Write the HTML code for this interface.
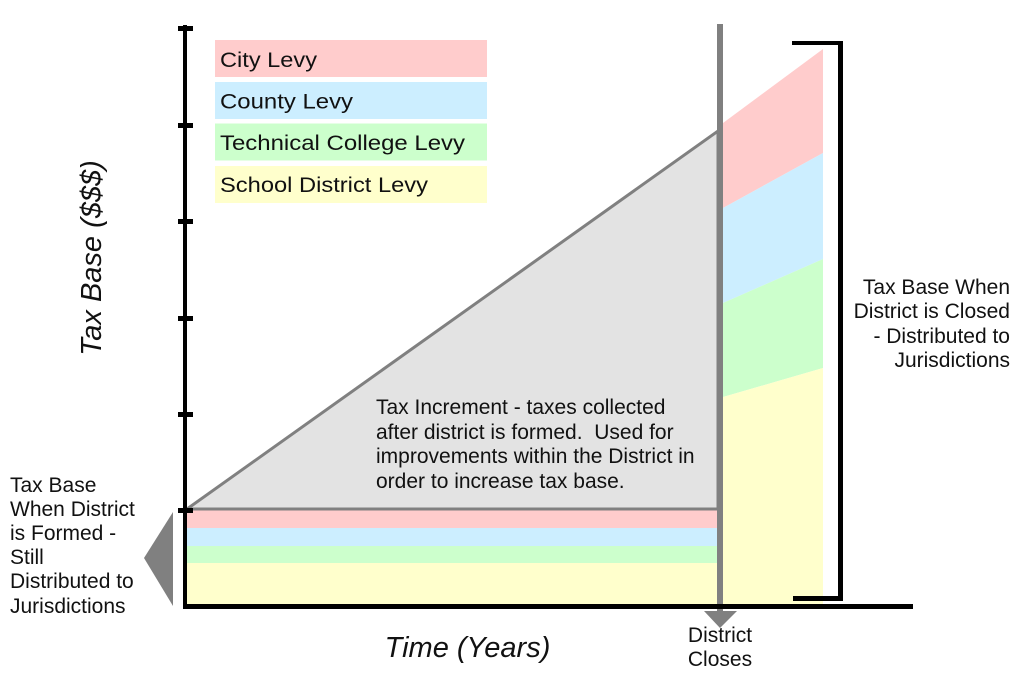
<!DOCTYPE html>
<html>
<head>
<meta charset="utf-8">
<style>
  html,body{margin:0;padding:0;background:#fff;}
  svg{display:block;}
  text{font-family:"Liberation Sans",Arial,sans-serif;fill:#111;}
</style>
</head>
<body>
<svg width="1017" height="674" viewBox="0 0 1017 674" xmlns="http://www.w3.org/2000/svg">
  <rect x="0" y="0" width="1017" height="674" fill="#fff"/>

  <!-- Legend -->
  <rect x="215" y="40" width="272" height="37" fill="#ffcccc"/>
  <rect x="215" y="82" width="272" height="37" fill="#cceeff"/>
  <rect x="215" y="123.5" width="272" height="37" fill="#ccffcc"/>
  <rect x="215" y="166" width="272" height="37" fill="#ffffcc"/>
  <text x="220" y="67" font-size="21.5" textLength="97" lengthAdjust="spacingAndGlyphs">City Levy</text>
  <text x="220" y="108.5" font-size="21.5" textLength="133" lengthAdjust="spacingAndGlyphs">County Levy</text>
  <text x="220" y="150" font-size="21.5" textLength="245" lengthAdjust="spacingAndGlyphs">Technical College Levy</text>
  <text x="220" y="192" font-size="21.5" textLength="208" lengthAdjust="spacingAndGlyphs">School District Levy</text>

  <!-- Base stripes (district formed) -->
  <rect x="187" y="510" width="530" height="18" fill="#ffcccc"/>
  <rect x="187" y="528" width="530" height="18" fill="#cceeff"/>
  <rect x="187" y="546" width="530" height="17" fill="#ccffcc"/>
  <rect x="187" y="563" width="530" height="42" fill="#ffffcc"/>

  <!-- Tax increment triangle -->
  <polygon points="187,509 718,131 718,509" fill="#e3e3e3" stroke="#808080" stroke-width="3" stroke-linejoin="miter"/>

  <!-- Right region (district closed) -->
  <polygon points="723,123 823,49 823,153 723,208" fill="#ffcccc"/>
  <polygon points="723,208 823,153 823,259 723,303" fill="#cceeff"/>
  <polygon points="723,303 823,259 823,368 723,397" fill="#ccffcc"/>
  <polygon points="723,397 823,368 823,604 723,604" fill="#ffffcc"/>

  <!-- District closes gray line + arrow -->
  <rect x="717" y="24" width="6" height="590" fill="#808080"/>
  <polygon points="704,611 737,611 720,628" fill="#808080"/>

  <!-- Left gray arrow -->
  <polygon points="144,558 173,512 173,606" fill="#808080"/>

  <!-- Y axis -->
  <rect x="183" y="25" width="4" height="584" fill="#000"/>
  <rect x="178" y="26" width="15" height="5" fill="#000"/>
  <rect x="178" y="123" width="15" height="5" fill="#000"/>
  <rect x="178" y="219" width="15" height="5" fill="#000"/>
  <rect x="178" y="316" width="15" height="5" fill="#000"/>
  <rect x="178" y="412" width="15" height="5" fill="#000"/>
  <rect x="178" y="508" width="15" height="5" fill="#000"/>

  <!-- X axis -->
  <rect x="183" y="604" width="730" height="5" fill="#000"/>

  <!-- Bracket -->
  <rect x="792" y="41" width="51" height="4" fill="#000"/>
  <rect x="838" y="41" width="5" height="560" fill="#000"/>
  <rect x="793" y="596" width="50" height="5" fill="#000"/>

  <!-- Axis titles -->
  <text transform="translate(101,258) rotate(-90)" text-anchor="middle" font-size="29" font-style="italic">Tax Base ($$$)</text>
  <text x="467.5" y="657" text-anchor="middle" font-size="29" font-style="italic">Time (Years)</text>

  <!-- Triangle text -->
  <text x="376" y="414" font-size="21">Tax Increment - taxes collected</text>
  <text x="376" y="439" font-size="21">after district is formed.&#160; Used for</text>
  <text x="376" y="463" font-size="21">improvements within the District in</text>
  <text x="376" y="488" font-size="21">order to increase tax base.</text>

  <!-- Left text -->
  <text x="10" y="492" font-size="21">Tax Base</text>
  <text x="10" y="516" font-size="21">When District</text>
  <text x="10" y="540" font-size="21">is Formed -</text>
  <text x="10" y="564" font-size="21">Still</text>
  <text x="10" y="588" font-size="21">Distributed to</text>
  <text x="10" y="613" font-size="21">Jurisdictions</text>

  <!-- Right text -->
  <text x="1010" y="294" text-anchor="end" font-size="21">Tax Base When</text>
  <text x="1010" y="318" text-anchor="end" font-size="21">District is Closed</text>
  <text x="1010" y="343" text-anchor="end" font-size="21">- Distributed to</text>
  <text x="1010" y="367" text-anchor="end" font-size="21">Jurisdictions</text>

  <!-- District closes label -->
  <text x="720" y="642" text-anchor="middle" font-size="21">District</text>
  <text x="720" y="666" text-anchor="middle" font-size="21">Closes</text>
</svg>
</body>
</html>
